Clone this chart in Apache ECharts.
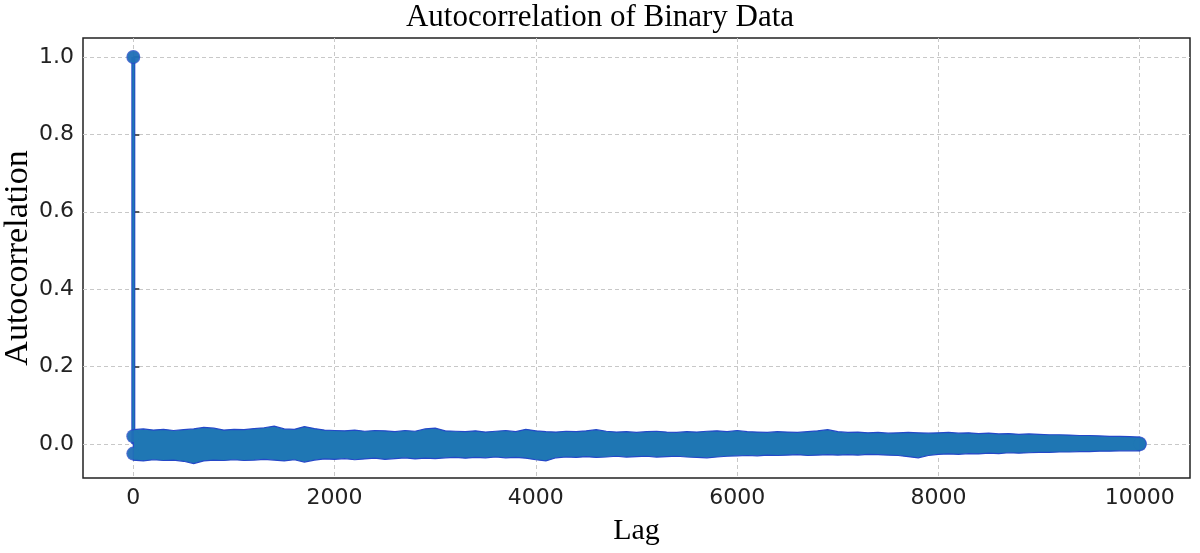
<!DOCTYPE html>
<html>
<head>
<meta charset="utf-8">
<script src="https://cdn.jsdelivr.net/npm/echarts@6/dist/echarts.min.js"></script>
<style>
html,body{margin:0;padding:0;background:#fff;}
#chart{width:1200px;height:553px;}
</style>
</head>
<body>
<div id="chart"></div>
<script>
// ---- data ----
const peakLag = 0;
const peakValue = 1.0;

const lags = [
  0,100,200,300,400,500,600,700,800,900,
  1000,1100,1200,1300,1400,1500,1600,1700,1800,1900,
  2000,2100,2200,2300,2400,2500,2600,2700,2800,2900,
  3000,3100,3200,3300,3400,3500,3600,3700,3800,3900,
  4000,4100,4200,4300,4400,4500,4600,4700,4800,4900,
  5000,5100,5200,5300,5400,5500,5600,5700,5800,5900,
  6000,6100,6200,6300,6400,6500,6600,6700,6800,6900,
  7000,7100,7200,7300,7400,7500,7600,7700,7800,7900,
  8000,8100,8200,8300,8400,8500,8600,8700,8800,8900,
  9000,9100,9200,9300,9400,9500,9600,9700,9800,9900,
  10000
];

// upper envelope of the autocorrelation stems
const bandHigh = [
  0.020,0.022,0.019,0.021,0.018,0.020,0.022,0.026,0.024,0.019,
  0.021,0.020,0.023,0.025,0.029,0.022,0.021,0.028,0.023,0.019,
  0.018,0.017,0.019,0.016,0.018,0.017,0.015,0.018,0.016,0.022,
  0.024,0.017,0.016,0.015,0.017,0.014,0.016,0.018,0.015,0.021,
  0.017,0.015,0.014,0.016,0.015,0.017,0.020,0.016,0.014,0.015,
  0.013,0.015,0.016,0.014,0.013,0.015,0.014,0.016,0.017,0.015,
  0.018,0.015,0.014,0.013,0.015,0.014,0.013,0.015,0.017,0.020,
  0.015,0.013,0.014,0.012,0.013,0.011,0.012,0.013,0.012,0.011,
  0.012,0.013,0.011,0.012,0.010,0.011,0.009,0.010,0.008,0.009,
  0.008,0.007,0.007,0.006,0.005,0.005,0.004,0.003,0.003,0.002,
  0.001
];

// lower envelope of the autocorrelation stems
const bandLow = [
  -0.025,-0.027,-0.024,-0.026,-0.025,-0.028,-0.034,-0.027,-0.025,-0.026,
  -0.024,-0.026,-0.025,-0.023,-0.025,-0.027,-0.024,-0.030,-0.025,-0.022,
  -0.023,-0.021,-0.024,-0.022,-0.020,-0.023,-0.021,-0.019,-0.022,-0.020,
  -0.021,-0.019,-0.018,-0.020,-0.018,-0.019,-0.017,-0.019,-0.018,-0.020,
  -0.024,-0.027,-0.019,-0.017,-0.018,-0.016,-0.018,-0.017,-0.015,-0.017,
  -0.016,-0.015,-0.017,-0.016,-0.015,-0.017,-0.018,-0.019,-0.017,-0.015,
  -0.014,-0.013,-0.014,-0.012,-0.013,-0.012,-0.011,-0.013,-0.012,-0.011,
  -0.012,-0.011,-0.012,-0.010,-0.011,-0.012,-0.013,-0.016,-0.019,-0.013,
  -0.010,-0.009,-0.010,-0.008,-0.009,-0.007,-0.008,-0.006,-0.007,-0.006,
  -0.005,-0.005,-0.004,-0.004,-0.003,-0.003,-0.002,-0.002,-0.001,-0.001,
  -0.001
];

const xTicks = [0, 2000, 4000, 6000, 8000, 10000];
const yTicks = [0.0, 0.2, 0.4, 0.6, 0.8, 1.0];

// ---- chart ----
const C0 = '#1f77b4';
const EDGE = '#2448c8';
const MARKER_R = 6.5;   // stem marker radius in px

const chart = echarts.init(document.getElementById('chart'), null, {renderer: 'canvas'});

const last = lags.length - 1;
const endPoints = [
  [lags[0], bandHigh[0]], [lags[0], bandLow[0]],
  [lags[last], bandHigh[last]], [lags[last], bandLow[last]],
  [peakLag, peakValue]
];

const option = {
  animation: false,
  backgroundColor: '#ffffff',
  title: {
    text: 'Autocorrelation of Binary Data',
    left: 'center',
    top: -3,
    textStyle: {fontFamily: 'Liberation Serif', fontSize: 31, fontWeight: 'normal', color: '#000'}
  },
  grid: {
    left: 83, right: 10, top: 38, bottom: 75,
    outerBoundsMode: 'none', containLabel: false,
    show: true, borderColor: '#222', borderWidth: 1.5, backgroundColor: 'transparent'
  },
  xAxis: {
    type: 'value', min: -500, max: 10500,
    name: 'Lag', nameLocation: 'middle', nameGap: 38, nameMoveOverlap: false,
    nameTextStyle: {fontFamily: 'Liberation Serif', fontSize: 30, color: '#000'},
    axisLine: {show: false},
    axisTick: {show: true, inside: true, length: 6, customValues: xTicks, lineStyle: {color: '#222', width: 1.5}},
    axisLabel: {customValues: xTicks, margin: 9, fontFamily: 'DejaVu Sans', fontSize: 22, color: '#222',
      formatter: v => String(v)},
    splitLine: {show: true, lineStyle: {color: '#c8c8c8', type: [4, 3], width: 1}}
  },
  yAxis: {
    type: 'value', min: -0.088, max: 1.049,
    name: 'Autocorrelation', nameLocation: 'middle', nameGap: 48, nameMoveOverlap: false,
    nameTextStyle: {fontFamily: 'Liberation Serif', fontSize: 34, color: '#000'},
    axisLine: {show: false},
    axisTick: {show: true, inside: true, length: 6, customValues: yTicks, lineStyle: {color: '#222', width: 1.5}},
    axisLabel: {customValues: yTicks, margin: 9, fontFamily: 'DejaVu Sans', fontSize: 22, color: '#222',
      formatter: v => v.toFixed(1)},
    splitLine: {show: true, lineStyle: {color: '#c8c8c8', type: [4, 3], width: 1}}
  },
  series: [
    // peak stem
    {
      type: 'line', data: [[peakLag, 0], [peakLag, peakValue]], symbol: 'none', z: 3,
      lineStyle: {color: EDGE, width: 4}
    },
    {
      type: 'line', data: [[peakLag, 0], [peakLag, peakValue]], symbol: 'none', z: 4,
      lineStyle: {color: C0, width: 2}
    },
    // end marker outlines
    {
      type: 'scatter', data: endPoints, symbol: 'circle', symbolSize: MARKER_R * 2 + 1, z: 5,
      itemStyle: {color: EDGE}, silent: true
    },
    // dense stem band: envelope of stem tips, widened by the marker radius
    {
      type: 'custom', z: 6, silent: true,
      data: [[lags[0], bandHigh[0], bandLow[0]]],
      renderItem: function (params, api) {
        const top = lags.map((l, i) => {
          const p = api.coord([l, bandHigh[i]]);
          return [p[0], p[1] - MARKER_R];
        });
        const bottom = lags.map((l, i) => {
          const p = api.coord([l, bandLow[i]]);
          return [p[0], p[1] + MARKER_R];
        }).reverse();
        return {
          type: 'polygon',
          shape: {points: top.concat(bottom), smooth: 0},
          style: {fill: C0, stroke: EDGE, lineWidth: 1.2}
        };
      }
    },
    // end marker fills
    {
      type: 'scatter', data: endPoints, symbol: 'circle', symbolSize: MARKER_R * 2 - 1, z: 7,
      itemStyle: {color: C0}, silent: true
    }
  ]
};
chart.setOption(option);
</script>
</body>
</html>
